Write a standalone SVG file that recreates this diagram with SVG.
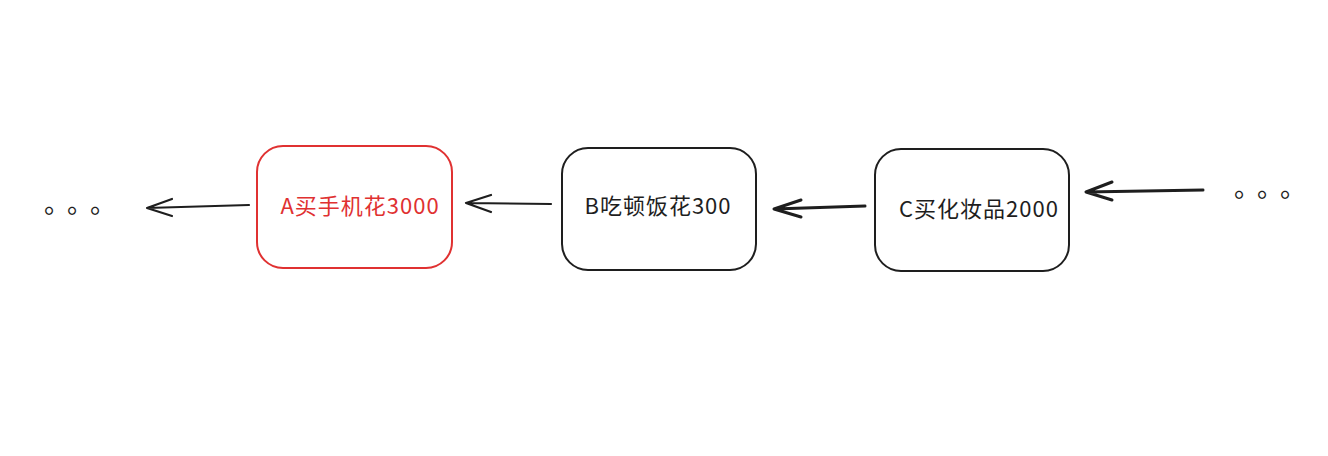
<svg xmlns="http://www.w3.org/2000/svg" width="1328" height="456" viewBox="0 0 1328 456">
<style>
.box{fill:#ffffff;stroke:#1e1e1e;stroke-width:2;}
.red{stroke:#e03131;}
.lbl{font-family:"Noto Sans CJK SC","Noto Sans",sans-serif;font-size:22px;letter-spacing:1px;fill:#1e1e1e;text-anchor:middle;dominant-baseline:central;}
.lbl.r{fill:#e03131;}
.dots{font-family:"Noto Sans CJK SC",sans-serif;font-size:26px;fill:#1e1e1e;}
.edge{fill:none;stroke:#1e1e1e;stroke-width:2.2;stroke-linecap:round;stroke-linejoin:round;}
.thick{stroke-width:3;}
</style>
<rect width="1328" height="456" fill="#ffffff"/>
<g id="dots-left"><text class="dots" x="44 67 90" y="213">。。。</text></g>
<g id="dots-right"><text class="dots" x="1234 1257 1280" y="197">。。。</text></g>
<g id="nodeA">
<rect class="box red" x="257" y="146" width="195" height="122" rx="26"/>
<text class="lbl r" x="360" y="204">A买手机花3000</text>
</g>
<g id="nodeB">
<rect class="box" x="562" y="148" width="194" height="122" rx="26"/>
<text class="lbl" x="658" y="204">B吃顿饭花300</text>
</g>
<g id="nodeC">
<rect class="box" x="875" y="149" width="194" height="122" rx="26"/>
<text class="lbl" x="979" y="207">C买化妆品2000</text>
</g>
<g id="connectors">
<path class="edge" d="M249 205 L147 208 M172 199 L147 208 L172 216"/>
<path class="edge" d="M551 204 L466 203 M491 195 L466 203 L491 212"/>
<path class="edge thick" d="M865 206 L774 209 M801 200 L774 209 L801 217"/>
<path class="edge thick" d="M1203 190 L1086 192 M1112 182 L1086 192 L1112 200"/>
</g>
</svg>
